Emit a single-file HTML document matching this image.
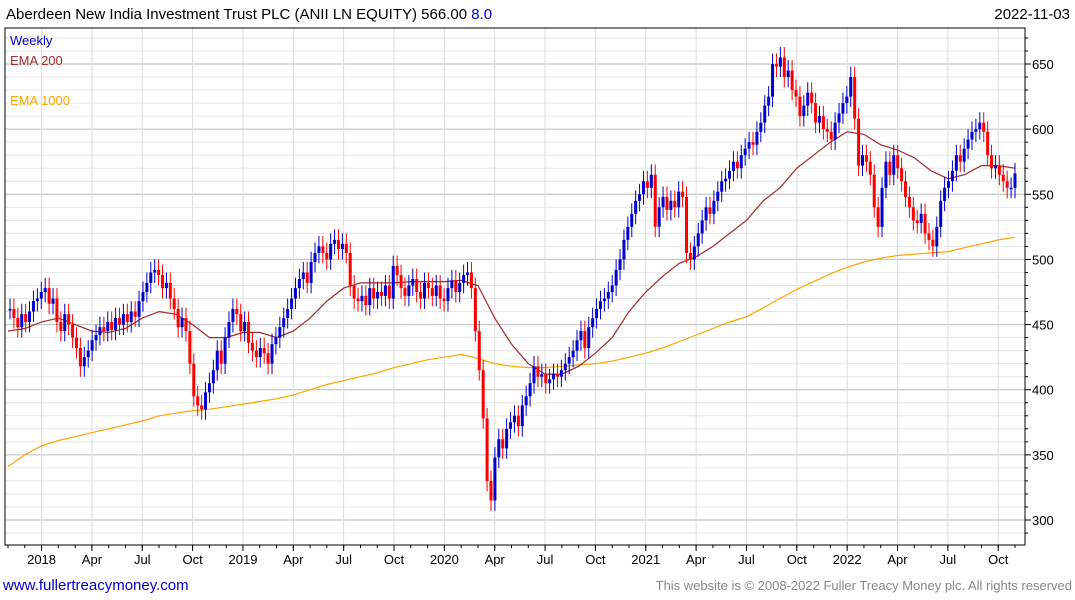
<!DOCTYPE html>
<html><head><meta charset="utf-8"><style>
body{margin:0;background:#fff;font-family:"Liberation Sans",sans-serif;}
svg{display:block}
</style></head><body>
<svg id="chart" width="1075" height="600" viewBox="0 0 1075 600">
<rect x="0" y="0" width="1075" height="600" fill="#fff"/>
<g id="grid"></g>
<g id="ema1000"></g>
<g id="ema200"></g>
<g id="candles"></g>
<rect x="5" y="28" width="1020" height="517" fill="none" stroke="#000" stroke-width="1"/>
<g id="axes"></g>
<text x="6" y="19" font-size="15" fill="#000">Aberdeen New India Investment Trust PLC (ANII LN EQUITY) 566.00 <tspan fill="#0000cc">8.0</tspan></text>
<text x="1070" y="19" font-size="15" fill="#000" text-anchor="end">2022-11-03</text>
<text x="10" y="45" font-size="13" fill="#0000cc">Weekly</text>
<text x="10" y="65" font-size="13" fill="#a52a2a">EMA 200</text>
<text x="10" y="105" font-size="13" fill="#ffa500">EMA 1000</text>
<text x="3" y="590" font-size="15" fill="#0000cc">www.fullertreacymoney.com</text>
<text x="1072" y="590" font-size="13" fill="#888" text-anchor="end">This website is © 2008-2022 Fuller Treacy Money plc. All rights reserved</text>
</svg>
<script>
const closes=[462,455,448,458, 452,460,468,470, 475,478,466,470, 452,445,458,450, 440,432,418,425,430, 438,442,448,445, 452,446,455,450, 458,452,460,456, 468,475,482,490,492, 488,478,482,470, 462,448,455,445, 420,395,388,385,398, 405,415,430,420, 440,452,462,458,
445,452,436,430,425, 432,428,420,435, 440,448,455,462, 470,478,485,490, 482,498,505,510,505, 500,512,515,508, 512,505,480,470, 468,472,465,478,470, 475,472,480,470, 495,488,478,472, 480,485,475,470,482, 478,472,480,470,
468,478,484,475, 482,488,490,478, 445,415,378,330,315, 348,362,355,370, 375,380,372,388, 395,405,418,410,412, 405,408,412,410, 415,420,425,430, 438,445,432,448, 455,462,468,470,475, 480,492,500,515, 525,535,545,550,
560,555,565,525, 540,548,538,545, 540,552,548,505,500, 510,520,530,540, 535,545,552,560, 562,568,575,570,580, 585,590,588,598, 605,618,625,650, 648,655,640,645,630, 625,610,618,628, 620,605,610,600, 598,592,605,612,620,
625,640,608,572, 580,575,565,540, 525,555,575,565,580, 570,560,548,540, 530,528,535,520, 515,510,525,545,555, 560,568,580,575, 585,592,598,600, 605,598,580,570,572, 565,560,555,555, 566];
const ema200=[445,447,452,455,450,445,444,447,455,460,458,450,440,440,444,444,440,445,455,468,478,482,482,482,483,483,483,484,480,455,435,420,412,412,418,428,440,460,475,487,497,502,510,520,530,545,555,570,580,590,598,596,588,584,578,568,562,565,572,572,570];
const ema1000=[341,350,357,361,364,367,370,373,376,380,382,384,385,387,389,391,393,396,400,404,407,410,413,417,420,423,425,427,424,420,418,417,417,418,419,420,422,425,428,432,437,442,447,452,456,463,470,477,483,489,494,498,501,503,504,505,506,509,512,515,517];
const yTicks=[300,350,400,450,500,550,600,650];
const xTickLabels=["2018","Apr","Jul","Oct","2019","Apr","Jul","Oct","2020","Apr","Jul","Oct","2021","Apr","Jul","Oct","2022","Apr","Jul","Oct"];
const NS="http://www.w3.org/2000/svg";
const y=p=>64+(650-p)*1.3029;
const xm=m=>8+m*(1015-8)/60;
const step=(1015-10)/(closes.length-1);
const xw=i=>10+i*step;
function mk(tag,attrs,parent){const e=document.createElementNS(NS,tag);for(const k in attrs)e.setAttribute(k,attrs[k]);parent.appendChild(e);return e;}
const grid=document.getElementById('grid'),axes=document.getElementById('axes');
for(let p=290;p<=670;p+=10){const yy=y(p);if(yy<28||yy>545)continue;const major=p%50===0;
 const l=mk('line',{x1:5,x2:1025,y1:yy,y2:yy,stroke:major?'#bbb':'#e6e6e6','stroke-width':1},grid);
 
 
 const t=mk('line',{x1:1025,x2:major?1031:1028,y1:yy,y2:yy,stroke:'#000'},axes);
 
 }
yTicks.forEach(v=>{const t=mk('text',{x:1032,y:y(v)+5,'font-size':13,fill:'#000'},axes);t.textContent=v;
 
 });
xTickLabels.forEach((lab,k)=>{const xx=xm(2+k*3);
 const g=mk('line',{x1:xx,x2:xx,y1:28,y2:545,stroke:'#ddd'},grid);
 
 
 const t=mk('line',{x1:xx,x2:xx,y1:545,y2:551,stroke:'#000'},axes);
 
 
 const tx=mk('text',{x:xx,y:564,'font-size':13,fill:'#000','text-anchor':'middle'},axes);tx.textContent=lab;
 
 });
for(let m=0;m<=60;m++){const t=mk('line',{x1:xm(m),x2:xm(m),y1:545,y2:548,stroke:'#000'},axes);
 
 }
function line(arr,color,id){const pts=arr.map((v,m)=>xm(m).toFixed(1)+','+y(v).toFixed(1)).join(' ');
 const pl=mk('polyline',{points:pts,fill:'none',stroke:color,'stroke-width':1.2},document.getElementById(id));
 
 }
line(ema1000,'#ffa500','ema1000');line(ema200,'#a52a2a','ema200');
const cg=document.getElementById('candles');
closes.forEach((c,i)=>{const o=i>0?closes[i-1]:c;const up=c>=o;const col=up?'#0000cc':'#ff0000';
 const hi=Math.max(o,c)+8,lo=Math.min(o,c)-8;const xx=xw(i);
 const w=mk('line',{x1:xx,x2:xx,y1:y(hi),y2:y(lo),stroke:col,'stroke-width':1},cg);
 
 
 const top=y(Math.max(o,c)),h=Math.max(1.5,Math.abs(y(o)-y(c)));
 const b=mk('rect',{x:xx-1.5,y:top,width:3,height:h,fill:col},cg);
 
 });
</script>
</body></html>
